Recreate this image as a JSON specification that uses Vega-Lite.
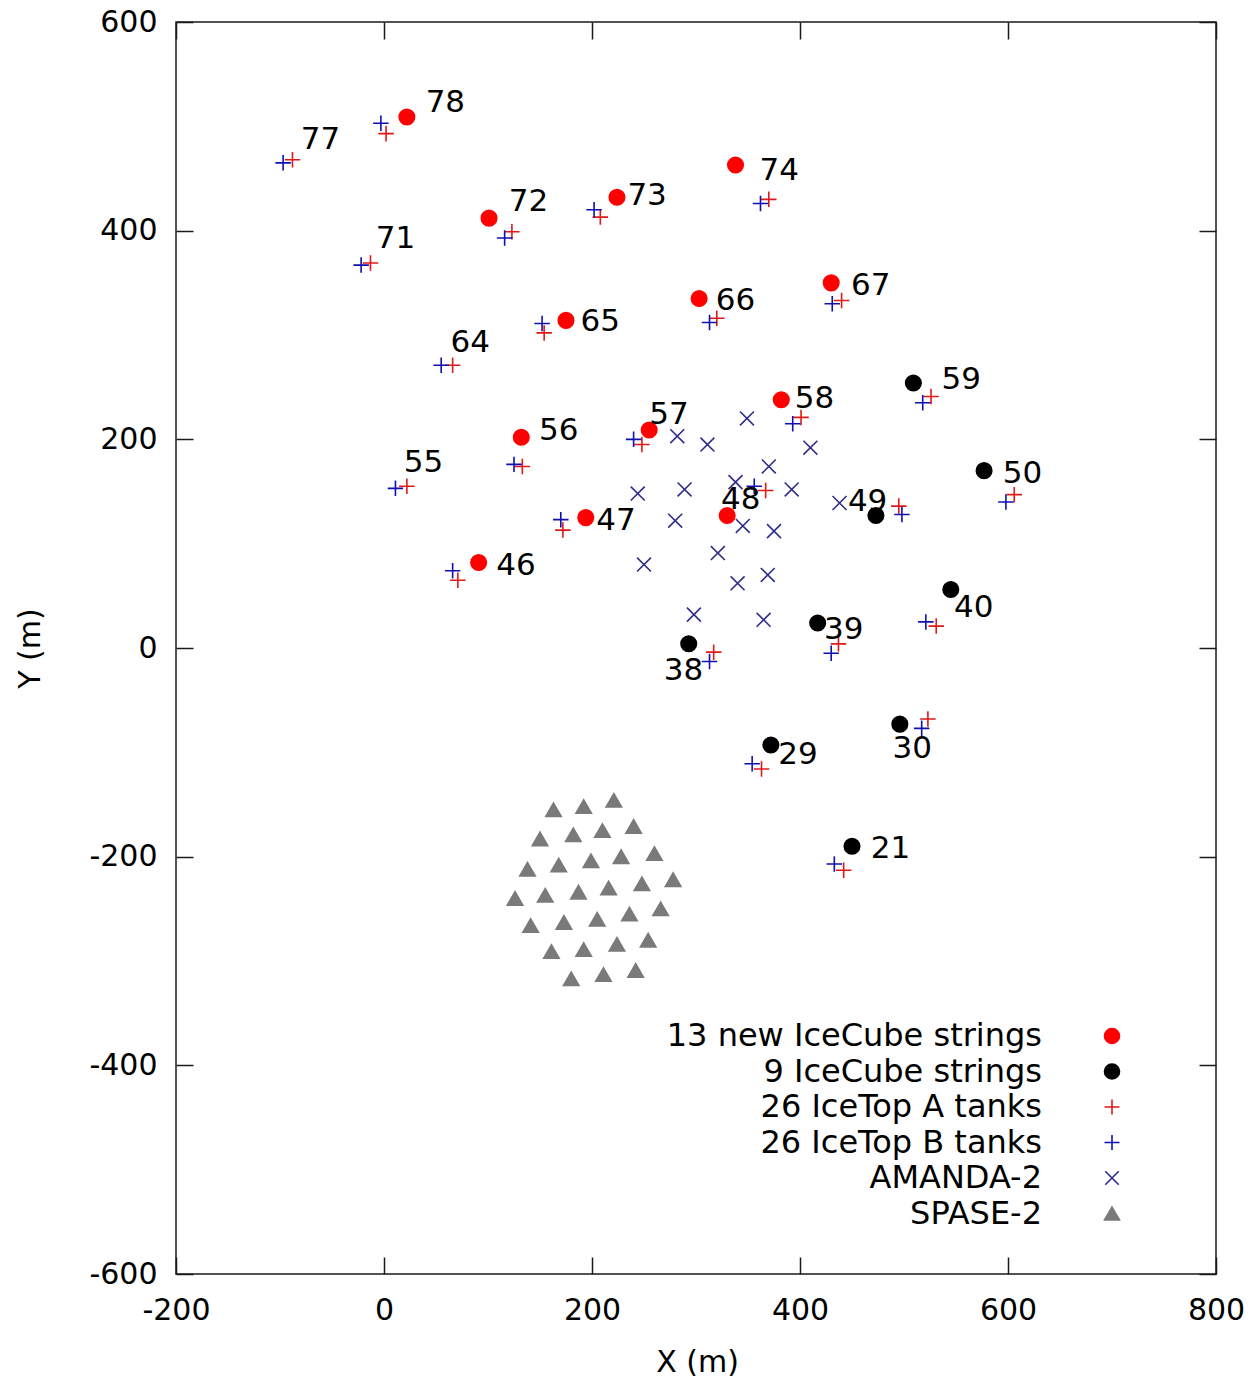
{
  "$schema": "https://vega.github.io/schema/vega-lite/v6.json",
  "width": 1040,
  "height": 1252,
  "autosize": "none",
  "padding": {"left": 176, "top": 22, "right": 39, "bottom": 107},
  "background": "white",
  "config": {
    "view": {"stroke": "#1a1a1a", "strokeWidth": 1.5},
    "font": "DejaVu Sans",
    "axis": {
      "grid": false, "domain": false, "tickSize": -17, "tickColor": "#1a1a1a", "tickWidth": 1.5,
      "labelFont": "DejaVu Sans", "labelFontSize": 30, "labelColor": "black", "labelFlush": false,
      "labelExpr": "'' + datum.value",
      "titleFont": "DejaVu Sans", "titleFontSize": 30, "titleFontWeight": "normal", "titleColor": "black"
    }
  },
  "datasets": {
    "pts": [
      {"series": "13 new IceCube strings", "x": 22, "y": 509},
      {"series": "13 new IceCube strings", "x": 101, "y": 412},
      {"series": "13 new IceCube strings", "x": 224, "y": 432},
      {"series": "13 new IceCube strings", "x": 338, "y": 463},
      {"series": "13 new IceCube strings", "x": 303, "y": 335},
      {"series": "13 new IceCube strings", "x": 430, "y": 350},
      {"series": "13 new IceCube strings", "x": 175, "y": 314},
      {"series": "13 new IceCube strings", "x": 382, "y": 238},
      {"series": "13 new IceCube strings", "x": 132, "y": 202},
      {"series": "13 new IceCube strings", "x": 255, "y": 209},
      {"series": "13 new IceCube strings", "x": 194, "y": 125},
      {"series": "13 new IceCube strings", "x": 91, "y": 82},
      {"series": "13 new IceCube strings", "x": 330, "y": 127},
      {"series": "9 IceCube strings", "x": 509, "y": 254},
      {"series": "9 IceCube strings", "x": 577, "y": 170},
      {"series": "9 IceCube strings", "x": 473, "y": 127},
      {"series": "9 IceCube strings", "x": 545, "y": 56},
      {"series": "9 IceCube strings", "x": 417, "y": 24},
      {"series": "9 IceCube strings", "x": 293, "y": 4},
      {"series": "9 IceCube strings", "x": 372, "y": -93},
      {"series": "9 IceCube strings", "x": 496, "y": -73},
      {"series": "9 IceCube strings", "x": 450, "y": -190},
      {"series": "26 IceTop A tanks", "x": 2, "y": 493},
      {"series": "26 IceTop A tanks", "x": -88, "y": 468},
      {"series": "26 IceTop A tanks", "x": 123, "y": 399},
      {"series": "26 IceTop A tanks", "x": 208, "y": 413},
      {"series": "26 IceTop A tanks", "x": -13, "y": 369},
      {"series": "26 IceTop A tanks", "x": 154, "y": 302},
      {"series": "26 IceTop A tanks", "x": 66, "y": 271},
      {"series": "26 IceTop A tanks", "x": 370, "y": 430},
      {"series": "26 IceTop A tanks", "x": 320, "y": 316},
      {"series": "26 IceTop A tanks", "x": 440, "y": 333},
      {"series": "26 IceTop A tanks", "x": 526, "y": 241},
      {"series": "26 IceTop A tanks", "x": 401, "y": 221},
      {"series": "26 IceTop A tanks", "x": 133, "y": 174},
      {"series": "26 IceTop A tanks", "x": 22, "y": 155},
      {"series": "26 IceTop A tanks", "x": 248, "y": 195},
      {"series": "26 IceTop A tanks", "x": 172, "y": 113},
      {"series": "26 IceTop A tanks", "x": 71, "y": 65},
      {"series": "26 IceTop A tanks", "x": 367, "y": 151},
      {"series": "26 IceTop A tanks", "x": 317, "y": -4},
      {"series": "26 IceTop A tanks", "x": 606, "y": 147},
      {"series": "26 IceTop A tanks", "x": 495, "y": 136},
      {"series": "26 IceTop A tanks", "x": 531, "y": 21},
      {"series": "26 IceTop A tanks", "x": 437, "y": 4},
      {"series": "26 IceTop A tanks", "x": 363, "y": -116},
      {"series": "26 IceTop A tanks", "x": 523, "y": -68},
      {"series": "26 IceTop A tanks", "x": 442, "y": -213},
      {"series": "26 IceTop B tanks", "x": -3, "y": 503},
      {"series": "26 IceTop B tanks", "x": -97, "y": 465},
      {"series": "26 IceTop B tanks", "x": 116, "y": 393},
      {"series": "26 IceTop B tanks", "x": 202, "y": 420},
      {"series": "26 IceTop B tanks", "x": -22, "y": 367},
      {"series": "26 IceTop B tanks", "x": 152, "y": 311},
      {"series": "26 IceTop B tanks", "x": 55, "y": 271},
      {"series": "26 IceTop B tanks", "x": 362, "y": 426},
      {"series": "26 IceTop B tanks", "x": 313, "y": 312},
      {"series": "26 IceTop B tanks", "x": 431, "y": 330},
      {"series": "26 IceTop B tanks", "x": 518, "y": 235},
      {"series": "26 IceTop B tanks", "x": 393, "y": 215},
      {"series": "26 IceTop B tanks", "x": 125, "y": 176},
      {"series": "26 IceTop B tanks", "x": 11, "y": 153},
      {"series": "26 IceTop B tanks", "x": 240, "y": 200},
      {"series": "26 IceTop B tanks", "x": 170, "y": 123},
      {"series": "26 IceTop B tanks", "x": 66, "y": 74},
      {"series": "26 IceTop B tanks", "x": 356, "y": 155},
      {"series": "26 IceTop B tanks", "x": 313, "y": -13},
      {"series": "26 IceTop B tanks", "x": 598, "y": 140},
      {"series": "26 IceTop B tanks", "x": 498, "y": 128},
      {"series": "26 IceTop B tanks", "x": 521, "y": 25},
      {"series": "26 IceTop B tanks", "x": 430, "y": -5},
      {"series": "26 IceTop B tanks", "x": 354, "y": -111},
      {"series": "26 IceTop B tanks", "x": 517, "y": -77},
      {"series": "26 IceTop B tanks", "x": 433, "y": -207},
      {"series": "AMANDA-2", "x": 349, "y": 220},
      {"series": "AMANDA-2", "x": 282, "y": 203},
      {"series": "AMANDA-2", "x": 311, "y": 195},
      {"series": "AMANDA-2", "x": 410, "y": 192},
      {"series": "AMANDA-2", "x": 370, "y": 174},
      {"series": "AMANDA-2", "x": 338, "y": 159},
      {"series": "AMANDA-2", "x": 289, "y": 152},
      {"series": "AMANDA-2", "x": 244, "y": 148},
      {"series": "AMANDA-2", "x": 392, "y": 152},
      {"series": "AMANDA-2", "x": 438, "y": 139},
      {"series": "AMANDA-2", "x": 280, "y": 122},
      {"series": "AMANDA-2", "x": 345, "y": 117},
      {"series": "AMANDA-2", "x": 375, "y": 112},
      {"series": "AMANDA-2", "x": 321, "y": 91},
      {"series": "AMANDA-2", "x": 250, "y": 80},
      {"series": "AMANDA-2", "x": 369, "y": 70},
      {"series": "AMANDA-2", "x": 340, "y": 62},
      {"series": "AMANDA-2", "x": 298, "y": 32},
      {"series": "AMANDA-2", "x": 365, "y": 27},
      {"series": "SPASE-2", "x": 163, "y": -155},
      {"series": "SPASE-2", "x": 192, "y": -152},
      {"series": "SPASE-2", "x": 221, "y": -146},
      {"series": "SPASE-2", "x": 150, "y": -183},
      {"series": "SPASE-2", "x": 182, "y": -179},
      {"series": "SPASE-2", "x": 210, "y": -175},
      {"series": "SPASE-2", "x": 240, "y": -171},
      {"series": "SPASE-2", "x": 138, "y": -212},
      {"series": "SPASE-2", "x": 168, "y": -208},
      {"series": "SPASE-2", "x": 199, "y": -204},
      {"series": "SPASE-2", "x": 228, "y": -200},
      {"series": "SPASE-2", "x": 260, "y": -197},
      {"series": "SPASE-2", "x": 126, "y": -240},
      {"series": "SPASE-2", "x": 155, "y": -237},
      {"series": "SPASE-2", "x": 187, "y": -234},
      {"series": "SPASE-2", "x": 216, "y": -230},
      {"series": "SPASE-2", "x": 248, "y": -226},
      {"series": "SPASE-2", "x": 278, "y": -222},
      {"series": "SPASE-2", "x": 141, "y": -266},
      {"series": "SPASE-2", "x": 173, "y": -263},
      {"series": "SPASE-2", "x": 205, "y": -260},
      {"series": "SPASE-2", "x": 236, "y": -255},
      {"series": "SPASE-2", "x": 266, "y": -250},
      {"series": "SPASE-2", "x": 161, "y": -291},
      {"series": "SPASE-2", "x": 192, "y": -289},
      {"series": "SPASE-2", "x": 224, "y": -284},
      {"series": "SPASE-2", "x": 254, "y": -280},
      {"series": "SPASE-2", "x": 180, "y": -317},
      {"series": "SPASE-2", "x": 211, "y": -313},
      {"series": "SPASE-2", "x": 242, "y": -309}
    ],
    "labels": [
      {"id": "78", "lx": 59, "ly": 522},
      {"id": "77", "lx": -61, "ly": 487},
      {"id": "72", "lx": 139, "ly": 427},
      {"id": "73", "lx": 253, "ly": 433},
      {"id": "71", "lx": 11, "ly": 392},
      {"id": "65", "lx": 208, "ly": 312},
      {"id": "64", "lx": 83, "ly": 292},
      {"id": "74", "lx": 380, "ly": 457},
      {"id": "66", "lx": 338, "ly": 333},
      {"id": "67", "lx": 468, "ly": 347},
      {"id": "59", "lx": 555, "ly": 257},
      {"id": "58", "lx": 414, "ly": 239},
      {"id": "56", "lx": 168, "ly": 208},
      {"id": "55", "lx": 38, "ly": 177},
      {"id": "57", "lx": 274, "ly": 223},
      {"id": "47", "lx": 223, "ly": 122},
      {"id": "46", "lx": 127, "ly": 79},
      {"id": "48", "lx": 343, "ly": 142},
      {"id": "38", "lx": 288, "ly": -22},
      {"id": "50", "lx": 614, "ly": 167},
      {"id": "49", "lx": 465, "ly": 140},
      {"id": "40", "lx": 567, "ly": 38},
      {"id": "39", "lx": 442, "ly": 17},
      {"id": "29", "lx": 398, "ly": -103},
      {"id": "30", "lx": 508, "ly": -97},
      {"id": "21", "lx": 487, "ly": -193}
    ]
  },
  "layer": [
    {
      "data": {"name": "pts"},
      "mark": {"type": "point", "filled": true, "opacity": 1, "size": 240, "strokeWidth": 1.6},
      "encoding": {
        "x": {
          "field": "x", "type": "quantitative",
          "scale": {"domain": [-200, 800], "nice": false, "zero": false},
          "axis": {"orient": "bottom", "values": [-200, 0, 200, 400, 600, 800], "labelPadding": 38, "title": "X (m)", "titleX": 521, "titleY": 88, "titleBaseline": "middle", "titleAlign": "center"}
        },
        "y": {
          "field": "y", "type": "quantitative",
          "scale": {"domain": [-600, 600], "nice": false, "zero": false},
          "axis": {"orient": "left", "values": [-600, -400, -200, 0, 200, 400, 600], "labelPadding": 36, "title": "Y (m)", "titleX": -146, "titleY": 626, "titleAngle": -90, "titleBaseline": "middle", "titleAlign": "center"}
        },
        "fill": {
          "field": "series", "type": "nominal",
          "scale": {
            "domain": ["13 new IceCube strings", "9 IceCube strings", "26 IceTop A tanks", "26 IceTop B tanks", "AMANDA-2", "SPASE-2"],
            "range": ["#ff0000", "#000000", "#e01818", "#1010b0", "#2e2e88", "#7a7a7a"]
          },
          "legend": {"orient": "none", "legendX": 920, "legendY": 998, "title": null, "padding": 0, "labelFont": "DejaVu Sans", "labelFontSize": 32, "labelColor": "black", "labelAlign": "right", "labelBaseline": "middle", "labelOffset": -86, "labelLimit": 1000, "rowPadding": 3.5, "symbolSize": 225, "symbolStrokeWidth": 1.6}
        },
        "stroke": {
          "field": "series", "type": "nominal",
          "scale": {
            "domain": ["13 new IceCube strings", "9 IceCube strings", "26 IceTop A tanks", "26 IceTop B tanks", "AMANDA-2", "SPASE-2"],
            "range": ["#ff0000", "#000000", "#e01818", "#1010b0", "#2e2e88", "#7a7a7a"]
          },
          "legend": {"orient": "none", "legendX": 920, "legendY": 998, "title": null, "padding": 0, "labelFont": "DejaVu Sans", "labelFontSize": 32, "labelColor": "black", "labelAlign": "right", "labelBaseline": "middle", "labelOffset": -86, "labelLimit": 1000, "rowPadding": 3.5, "symbolSize": 225, "symbolStrokeWidth": 1.6}
        },
        "shape": {
          "field": "series", "type": "nominal",
          "scale": {
            "domain": ["13 new IceCube strings", "9 IceCube strings", "26 IceTop A tanks", "26 IceTop B tanks", "AMANDA-2", "SPASE-2"],
            "range": ["circle", "circle", "M-1,0H1M0,-1V1", "M-1,0H1M0,-1V1", "M-0.9,-0.9L0.9,0.9M0.9,-0.9L-0.9,0.9", "triangle-up"]
          },
          "legend": {"orient": "none", "legendX": 920, "legendY": 998, "title": null, "padding": 0, "labelFont": "DejaVu Sans", "labelFontSize": 32, "labelColor": "black", "labelAlign": "right", "labelBaseline": "middle", "labelOffset": -86, "labelLimit": 1000, "rowPadding": 3.5, "symbolSize": 225, "symbolStrokeWidth": 1.6}
        }
      }
    },
    {
      "data": {"name": "labels"},
      "mark": {"type": "text", "font": "DejaVu Sans", "fontSize": 31, "color": "black", "align": "center", "baseline": "middle"},
      "encoding": {
        "x": {
          "field": "lx", "type": "quantitative",
          "scale": {"domain": [-200, 800], "nice": false, "zero": false},
          "axis": {"orient": "top", "values": [-200, 0, 200, 400, 600, 800], "labels": false, "title": null}
        },
        "y": {
          "field": "ly", "type": "quantitative",
          "scale": {"domain": [-600, 600], "nice": false, "zero": false},
          "axis": {"orient": "right", "values": [-600, -400, -200, 0, 200, 400, 600], "labels": false, "title": null}
        },
        "text": {"field": "id", "type": "nominal"}
      }
    }
  ],
  "resolve": {"axis": {"x": "independent", "y": "independent"}}
}
